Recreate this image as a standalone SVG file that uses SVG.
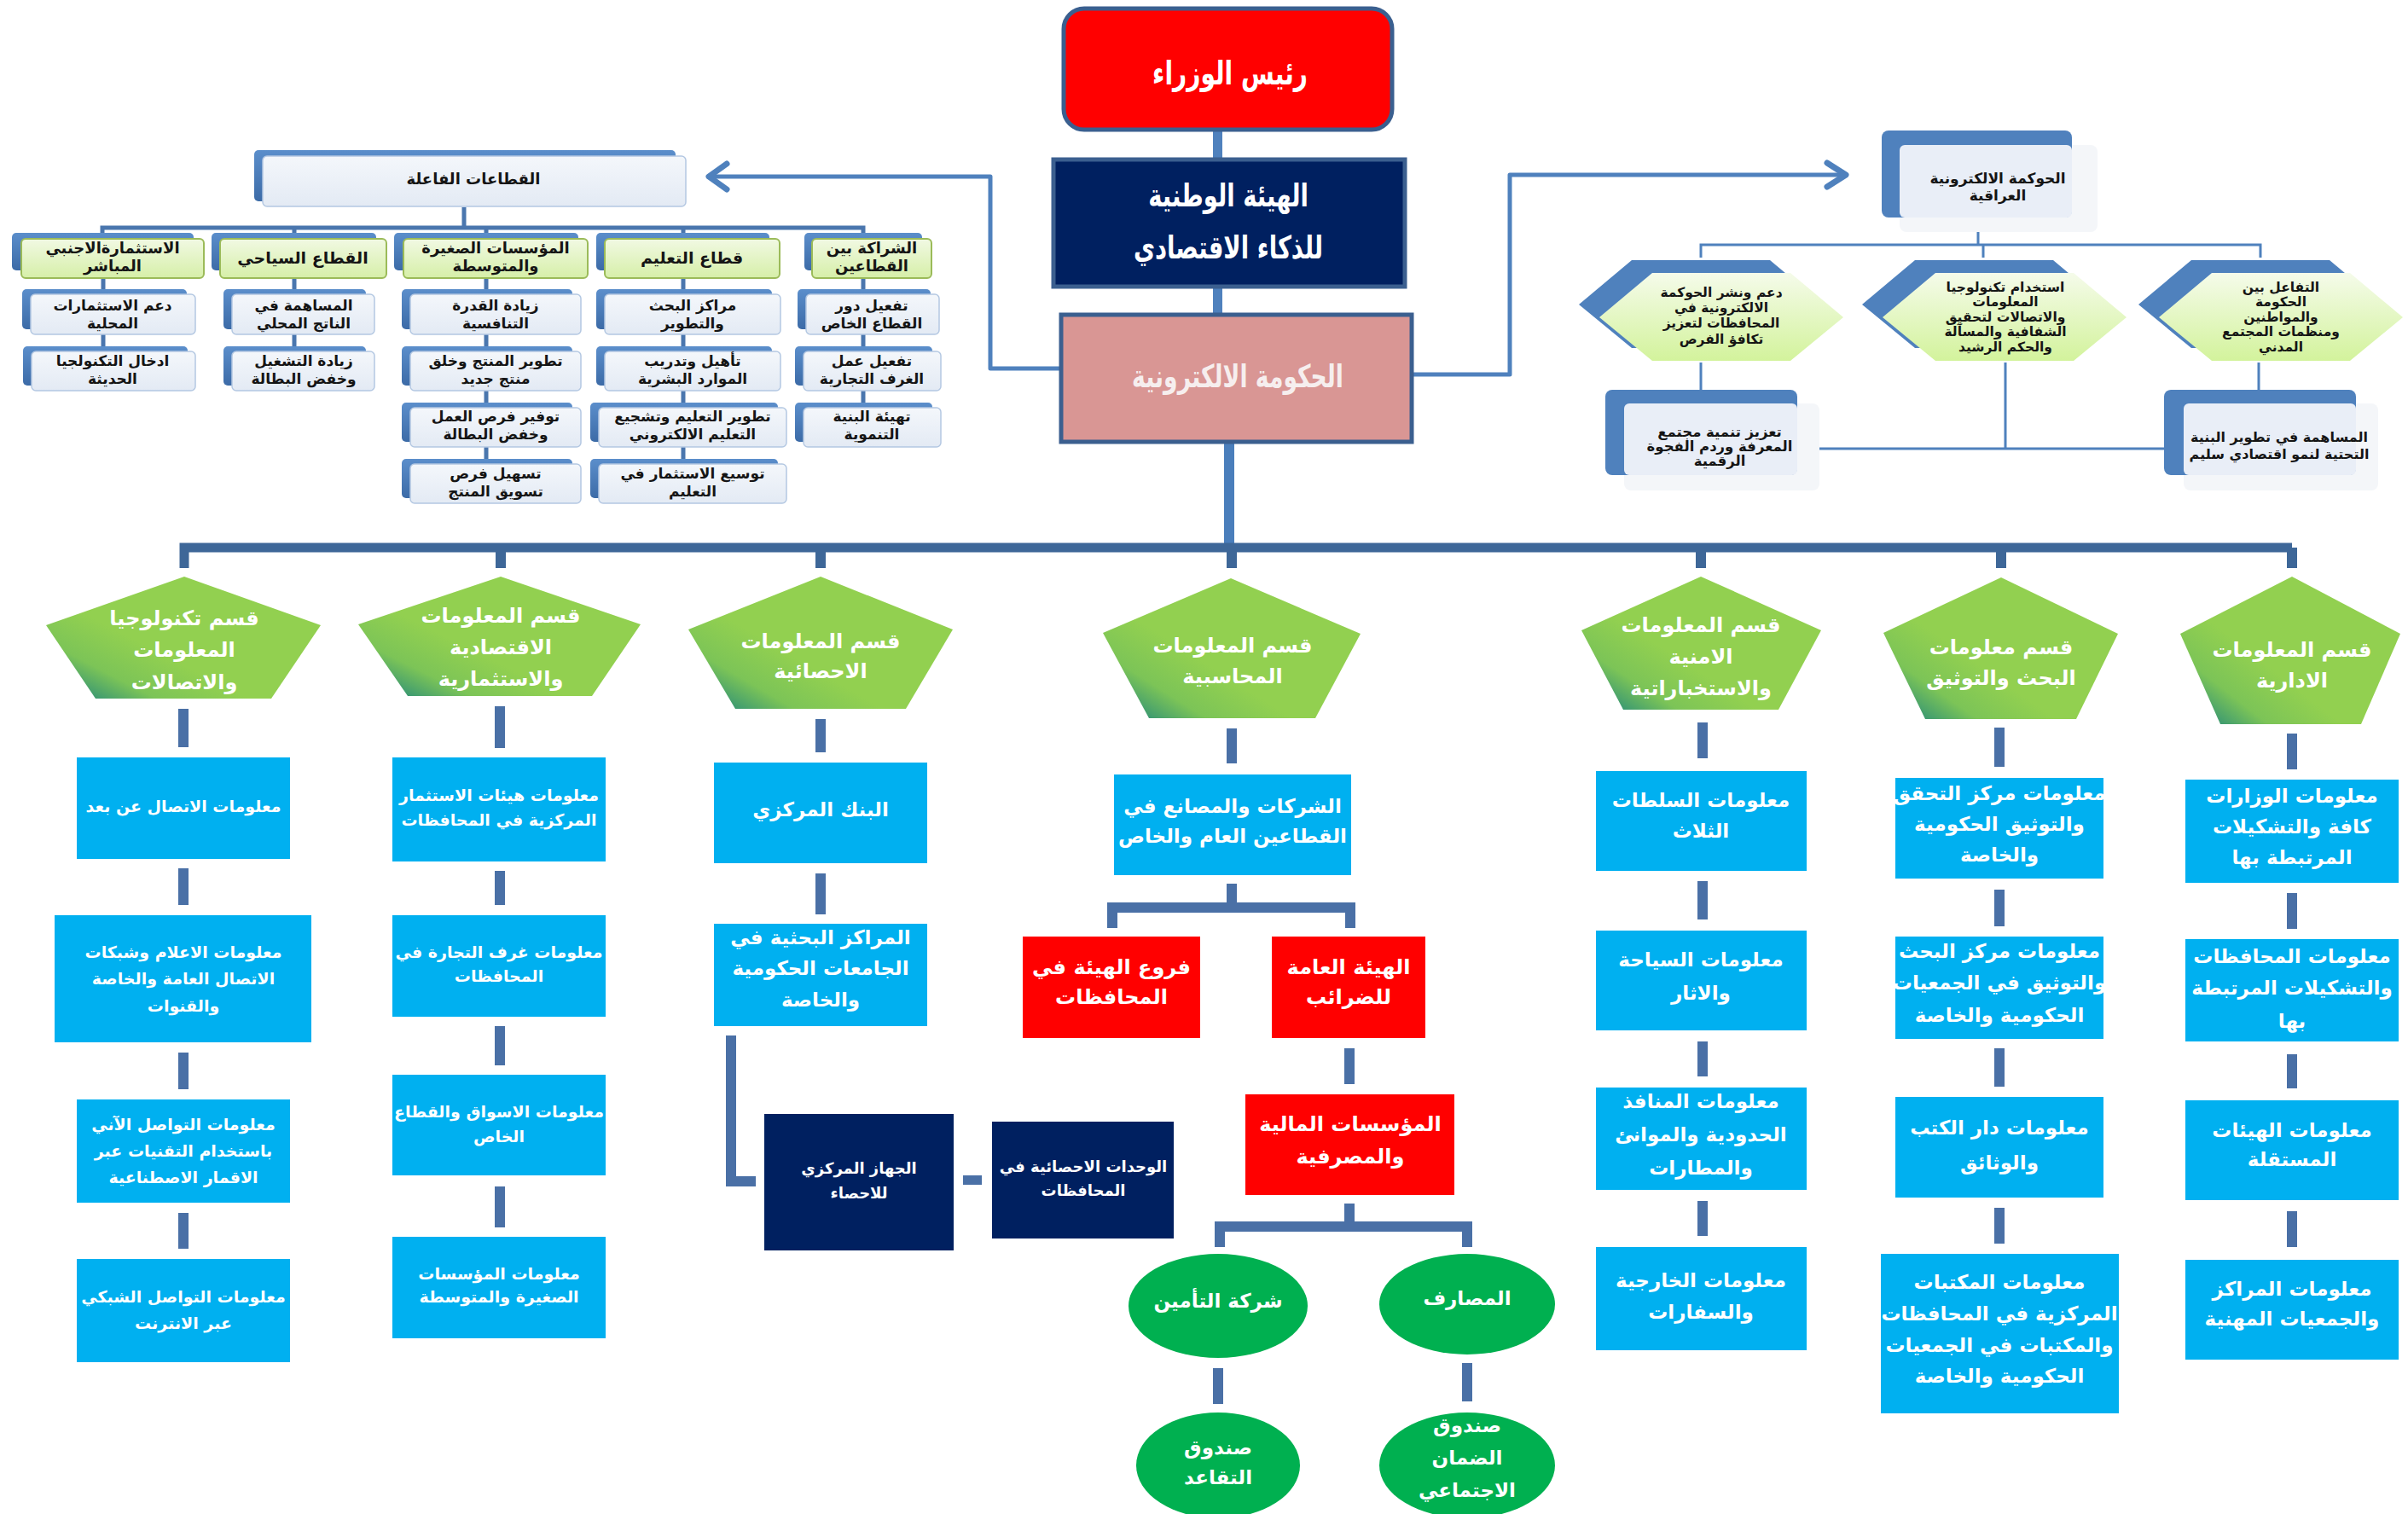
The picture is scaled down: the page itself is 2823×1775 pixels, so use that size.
<svg xmlns="http://www.w3.org/2000/svg" width="2823" height="1775" viewBox="0 0 2823 1775">
<defs>
<linearGradient id="gBack" x1="0" y1="0" x2="0" y2="1"><stop offset="0" stop-color="#5B8ECB"/><stop offset="1" stop-color="#3C6BA7"/></linearGradient>
<linearGradient id="gFront" x1="0" y1="0" x2="0" y2="1"><stop offset="0" stop-color="#F4F7FB"/><stop offset="1" stop-color="#E3EAF4"/></linearGradient>
<linearGradient id="gGreen" x1="0" y1="0" x2="0" y2="1"><stop offset="0" stop-color="#F1F9E3"/><stop offset="1" stop-color="#D6EFA8"/></linearGradient>
<linearGradient id="gHex" x1="0" y1="0" x2="0" y2="1"><stop offset="0" stop-color="#F5FBEA"/><stop offset="1" stop-color="#D3F39C"/></linearGradient>
<linearGradient id="gPent" x1="0" y1="0.85" x2="0.35" y2="0.55"><stop offset="0" stop-color="#2F9176"/><stop offset="0.45" stop-color="#7CC457"/><stop offset="1" stop-color="#92D050"/></linearGradient>
<style>
.t{font-family:"DejaVu Sans",sans-serif;text-anchor:middle}
.w{fill:#FFFFFF}
.b{font-weight:bold}
.k{fill:#151515;font-weight:bold}
.bb{fill:url(#gBack)}
.fb{fill:url(#gFront);stroke:#B4C8E2;stroke-width:1.5}
.gb{fill:url(#gGreen);stroke:#9BBB59;stroke-width:2}
.hx{fill:url(#gHex)}
.hb{fill:#4F81BD}
.pt{fill:url(#gPent)}
.bx{fill:#00B0F0}
.rd{fill:#FF0000}
.nv{fill:#002060}
.el{fill:#00B050}
.sh{fill:#F4F6F9}
.lf{fill:#E9EEF7}
.bar{fill:#4A70A6}
.ln{fill:none;stroke:#4A76AE;stroke-width:5}
.ln3{fill:none;stroke:#4F81BD;stroke-width:3}
.bus{fill:none;stroke:#3E6798;stroke-width:11}
.brk{fill:none;stroke:#4A70A6;stroke-width:12}
.arw{fill:none;stroke:#4F81BD;stroke-width:5;stroke-linecap:round;stroke-linejoin:round}
</style>
</defs>
<rect width="2823" height="1775" fill="#FFFFFF"/>

<g id="connectors">
<rect x="1422" y="152" width="11" height="36" fill="#4F81BD"/>
<rect x="1422" y="336" width="11" height="34" fill="#4F81BD"/>
<polyline class="arw" points="1244,432 1161,432 1161,207 834,207"/>
<polyline class="arw" points="852,192 831,207 852,222" style="stroke-width:7"/>
<polyline class="arw" points="1655,439 1770,439 1770,205 2160,205"/>
<polyline class="arw" points="2142,191 2164,205 2142,219" style="stroke-width:7"/>
<path class="ln" d="M544 243V267M120 278V267H1012V278M345 267V278M570 267V278M801 267V278"/>
<path class="ln" d="M121 317V412M345 317V412M570 317V544M801 317V544M1012 317V478"/>
<path class="ln3" d="M2319 255V287M1994 302V287H2650V302M2325 287V302M1994 425V457M2648 425V457M2351 425V526M2107 526H2537"/>
<line x1="1441" y1="518" x2="1441" y2="642" stroke="#4A7EBB" stroke-width="12"/>
<path class="bus" d="M216 666V642H2687"/>
<path class="bus" d="M2687 642V666M587 642V666M962 642V666M1444 642V666M1994 642V666M2346 642V666" style="stroke-width:12"/>
<rect class="bar" x="209" y="831" width="12" height="45"/>
<rect class="bar" x="209" y="1018" width="12" height="43"/>
<rect class="bar" x="209" y="1234" width="12" height="43"/>
<rect class="bar" x="209" y="1422" width="12" height="42"/>
<rect class="bar" x="580" y="828" width="12" height="49"/>
<rect class="bar" x="580" y="1021" width="12" height="40"/>
<rect class="bar" x="580" y="1203" width="12" height="46"/>
<rect class="bar" x="580" y="1391" width="12" height="48"/>
<rect class="bar" x="956" y="843" width="12" height="39"/>
<rect class="bar" x="956" y="1024" width="12" height="48"/>
<path class="brk" d="M857 1214V1385H886"/>
<rect class="bar" x="1129" y="1378" width="22" height="11"/>
<rect class="bar" x="1438" y="854" width="12" height="41"/>
<path class="brk" d="M1304 1088V1064H1583V1088M1444 1036V1064"/>
<rect class="bar" x="1576" y="1229" width="12" height="42"/>
<path class="brk" d="M1430 1462V1438H1720V1462M1582 1411V1438"/>
<rect class="bar" x="1422" y="1604" width="12" height="42"/>
<rect class="bar" x="1714" y="1598" width="12" height="45"/>
<rect class="bar" x="1990" y="847" width="12" height="42"/>
<rect class="bar" x="1990" y="1033" width="12" height="45"/>
<rect class="bar" x="1990" y="1221" width="12" height="41"/>
<rect class="bar" x="1990" y="1408" width="12" height="41"/>
<rect class="bar" x="2338" y="853" width="12" height="46"/>
<rect class="bar" x="2338" y="1043" width="12" height="43"/>
<rect class="bar" x="2338" y="1229" width="12" height="45"/>
<rect class="bar" x="2338" y="1416" width="12" height="42"/>
<rect class="bar" x="2681" y="860" width="12" height="42"/>
<rect class="bar" x="2681" y="1047" width="12" height="42"/>
<rect class="bar" x="2681" y="1236" width="12" height="40"/>
<rect class="bar" x="2681" y="1420" width="12" height="42"/>
</g>

<g id="n-pm">
<rect x="1247" y="10" width="385" height="142" rx="24" fill="#FF0000" stroke="#3A5F8F" stroke-width="5"/>
<text class="t w b" font-size="38" transform="translate(1442 99) scale(0.74 1)" x="0" y="0">رئيس الوزراء</text>
</g>
<g id="n-authority">
<rect x="1235" y="187" width="412" height="149" fill="#002060" stroke="#3B5F8F" stroke-width="5"/>
<text class="t w b" font-size="37" transform="translate(1440 242) scale(0.74 1)"><tspan x="0" y="0">الهيئة الوطنية</tspan><tspan x="0" y="61">للذكاء الاقتصادي</tspan></text>
</g>
<g id="n-egov">
<rect x="1244" y="369" width="411" height="149" fill="#D99694" stroke="#3B5F8F" stroke-width="5"/>
<text class="t b" font-size="37" fill="#F6EEEE" transform="translate(1451 454) scale(0.72 1)" x="0" y="0">الحكومة الالكترونية</text>
</g>

<g id="n-sectors">
<rect class="bb" x="298" y="176" width="494" height="60" rx="5"/>
<rect class="fb" x="308" y="183" width="496" height="59" rx="5"/>
<text class="t k" x="555" y="216" font-size="18">القطاعات الفاعلة</text>
</g>
<g id="n-s1">
<rect class="bb" x="14" y="273" width="213" height="44" rx="5"/>
<rect class="gb" x="25" y="280" width="214" height="46" rx="5"/>
<text class="t k" font-size="18"><tspan x="132" y="297">الاستثمارةالاجنبي</tspan><tspan x="132" y="318">المباشر</tspan></text>
</g>
<g id="n-s2">
<rect class="bb" x="248" y="273" width="193" height="44" rx="5"/>
<rect class="gb" x="258" y="280" width="195" height="46" rx="5"/>
<text class="t k" x="355" y="309" font-size="19">القطاع السياحي</text>
</g>
<g id="n-s3">
<rect class="bb" x="462" y="273" width="216" height="44" rx="5"/>
<rect class="gb" x="473" y="280" width="216" height="46" rx="5"/>
<text class="t k" font-size="18"><tspan x="581" y="297">المؤسسات الصغيرة</tspan><tspan x="581" y="318">والمتوسطة</tspan></text>
</g>
<g id="n-s4">
<rect class="bb" x="699" y="273" width="203" height="44" rx="5"/>
<rect class="gb" x="709" y="280" width="205" height="46" rx="5"/>
<text class="t k" x="811" y="309" font-size="19">قطاع التعليم</text>
</g>
<g id="n-s5">
<rect class="bb" x="943" y="273" width="138" height="44" rx="5"/>
<rect class="gb" x="952" y="280" width="140" height="46" rx="5"/>
<text class="t k" font-size="18"><tspan x="1022" y="297">الشراكة بين</tspan><tspan x="1022" y="318">القطاعين</tspan></text>
</g>

<g id="n-s1a">
<rect class="bb" x="26" y="339" width="193" height="47" rx="5"/>
<rect class="fb" x="36" y="345" width="193" height="47" rx="5"/>
<text class="t k" font-size="17"><tspan x="132" y="364">دعم الاستثمارات</tspan><tspan x="132" y="385">المحلية</tspan></text>
</g>
<g id="n-s1b">
<rect class="bb" x="27" y="406" width="193" height="46" rx="5"/>
<rect class="fb" x="37" y="412" width="192" height="46" rx="5"/>
<text class="t k" font-size="17"><tspan x="132" y="429">ادخال التكنولجيا</tspan><tspan x="132" y="450">الحديثة</tspan></text>
</g>
<g id="n-s2a">
<rect class="bb" x="262" y="339" width="167" height="47" rx="5"/>
<rect class="fb" x="272" y="345" width="167" height="47" rx="5"/>
<text class="t k" font-size="17"><tspan x="356" y="364">المساهمة في</tspan><tspan x="356" y="385">الناتج المحلي</tspan></text>
</g>
<g id="n-s2b">
<rect class="bb" x="262" y="406" width="167" height="46" rx="5"/>
<rect class="fb" x="272" y="412" width="167" height="46" rx="5"/>
<text class="t k" font-size="17"><tspan x="356" y="429">زيادة التشغيل</tspan><tspan x="356" y="450">وخفض البطالة</tspan></text>
</g>
<g id="n-s3a">
<rect class="bb" x="471" y="339" width="200" height="47" rx="5"/>
<rect class="fb" x="481" y="345" width="200" height="47" rx="5"/>
<text class="t k" font-size="17"><tspan x="581" y="364">زيادة القدرة</tspan><tspan x="581" y="385">التنافسية</tspan></text>
</g>
<g id="n-s3b">
<rect class="bb" x="471" y="406" width="200" height="46" rx="5"/>
<rect class="fb" x="481" y="412" width="200" height="46" rx="5"/>
<text class="t k" font-size="17"><tspan x="581" y="429">تطوير المنتج وخلق</tspan><tspan x="581" y="450">منتج جديد</tspan></text>
</g>
<g id="n-s3c">
<rect class="bb" x="471" y="472" width="200" height="46" rx="5"/>
<rect class="fb" x="481" y="478" width="200" height="46" rx="5"/>
<text class="t k" font-size="17"><tspan x="581" y="494">توفير فرص العمل</tspan><tspan x="581" y="515">وخفض البطالة</tspan></text>
</g>
<g id="n-s3d">
<rect class="bb" x="471" y="538" width="200" height="46" rx="5"/>
<rect class="fb" x="481" y="544" width="200" height="46" rx="5"/>
<text class="t k" font-size="17"><tspan x="581" y="561">تسهيل فرص</tspan><tspan x="581" y="582">تسويق المنتج</tspan></text>
</g>
<g id="n-s4a">
<rect class="bb" x="699" y="339" width="206" height="47" rx="5"/>
<rect class="fb" x="709" y="345" width="206" height="47" rx="5"/>
<text class="t k" font-size="17"><tspan x="812" y="364">مراكز البحث</tspan><tspan x="812" y="385">والتطوير</tspan></text>
</g>
<g id="n-s4b">
<rect class="bb" x="699" y="406" width="206" height="46" rx="5"/>
<rect class="fb" x="709" y="412" width="206" height="46" rx="5"/>
<text class="t k" font-size="17"><tspan x="812" y="429">تأهيل وتدريب</tspan><tspan x="812" y="450">الموارد البشرية</tspan></text>
</g>
<g id="n-s4c">
<rect class="bb" x="692" y="472" width="220" height="46" rx="5"/>
<rect class="fb" x="702" y="478" width="220" height="46" rx="5"/>
<text class="t k" font-size="17"><tspan x="812" y="494">تطوير التعليم وتشجيع</tspan><tspan x="812" y="515">التعليم الالكتروني</tspan></text>
</g>
<g id="n-s4d">
<rect class="bb" x="692" y="538" width="220" height="46" rx="5"/>
<rect class="fb" x="702" y="544" width="220" height="46" rx="5"/>
<text class="t k" font-size="17"><tspan x="812" y="561">توسيع الاستثمار في</tspan><tspan x="812" y="582">التعليم</tspan></text>
</g>
<g id="n-s5a">
<rect class="bb" x="935" y="339" width="156" height="47" rx="5"/>
<rect class="fb" x="945" y="345" width="156" height="47" rx="5"/>
<text class="t k" font-size="17"><tspan x="1022" y="364">تفعيل دور</tspan><tspan x="1022" y="385">القطاع الخاص</tspan></text>
</g>
<g id="n-s5b">
<rect class="bb" x="932" y="406" width="161" height="46" rx="5"/>
<rect class="fb" x="942" y="412" width="161" height="46" rx="5"/>
<text class="t k" font-size="17"><tspan x="1022" y="429">تفعيل عمل</tspan><tspan x="1022" y="450">الغرف التجارية</tspan></text>
</g>
<g id="n-s5c">
<rect class="bb" x="932" y="472" width="161" height="46" rx="5"/>
<rect class="fb" x="942" y="478" width="161" height="46" rx="5"/>
<text class="t k" font-size="17"><tspan x="1022" y="494">تهيئة البنية</tspan><tspan x="1022" y="515">التنموية</tspan></text>
</g>

<g id="n-iqgov">
<rect class="sh" x="2227" y="170" width="232" height="102" rx="8"/>
<rect class="hb" x="2206" y="153" width="223" height="102" rx="8"/>
<rect class="lf" x="2227" y="170" width="202" height="85" rx="6"/>
<text class="t k" font-size="17"><tspan x="2342" y="215">الحوكمة الالكترونية</tspan><tspan x="2342" y="235">العراقية</tspan></text>
</g>
<g id="n-h1">
<polygon class="hb" points="1913,305 2075,305 2137,357 2075,408 1913,408 1851,357"/>
<polygon class="hx" points="1937,320 2099,320 2161,372 2099,423 1937,423 1875,372"/>
<text class="t k" font-size="15.5"><tspan x="2018" y="348">دعم ونشر الحوكمة</tspan><tspan x="2018" y="366">الالكترونية في</tspan><tspan x="2018" y="384">المحافظات لتعزيز</tspan><tspan x="2018" y="403">تكافؤ الفرص</tspan></text>
</g>
<g id="n-h2">
<polygon class="hb" points="2245,305 2407,305 2469,357 2407,408 2245,408 2183,357"/>
<polygon class="hx" points="2269,320 2431,320 2493,372 2431,423 2269,423 2207,372"/>
<text class="t k" font-size="15.5"><tspan x="2351" y="342">استخدام تكنولوجيا</tspan><tspan x="2351" y="359">المعلومات</tspan><tspan x="2351" y="377">والاتصالات لتحقيق</tspan><tspan x="2351" y="394">الشفافية والمسآلة</tspan><tspan x="2351" y="412">والحكم الرشيد</tspan></text>
</g>
<g id="n-h3">
<polygon class="hb" points="2569,305 2731,305 2793,357 2731,408 2569,408 2507,357"/>
<polygon class="hx" points="2593,320 2755,320 2817,372 2755,423 2593,423 2531,372"/>
<text class="t k" font-size="15.5"><tspan x="2674" y="342">التفاعل بين</tspan><tspan x="2674" y="359">الحكومة</tspan><tspan x="2674" y="377">والمواطنين</tspan><tspan x="2674" y="394">ومنظمات المجتمع</tspan><tspan x="2674" y="412">المدني</tspan></text>
</g>
<g id="n-r1">
<rect class="sh" x="1904" y="473" width="229" height="102" rx="8"/>
<rect class="hb" x="1882" y="457" width="225" height="100" rx="8"/>
<rect class="lf" x="1904" y="473" width="203" height="84" rx="6"/>
<text class="t k" font-size="16.5"><tspan x="2016" y="512">تعزيز تنمية مجتمع</tspan><tspan x="2016" y="529">المعرفة وردم الفجوة</tspan><tspan x="2016" y="546">الرقمية</tspan></text>
</g>
<g id="n-r2">
<rect class="sh" x="2560" y="473" width="228" height="102" rx="8"/>
<rect class="hb" x="2537" y="457" width="225" height="100" rx="8"/>
<rect class="lf" x="2560" y="473" width="202" height="84" rx="6"/>
<text class="t k" font-size="16"><tspan x="2672" y="518">المساهمة في تطوير البنية</tspan><tspan x="2672" y="538">التحتية لنمو اقتصادي سليم</tspan></text>
</g>

<g id="n-pA">
<polygon class="pt" points="216,676 376,733 318,819 112,819 54,733"/>
<text class="t w b" font-size="24"><tspan x="216" y="733">قسم تكنولوجيا</tspan><tspan x="216" y="770">المعلومات</tspan><tspan x="216" y="808">والاتصالات</tspan></text>
</g>
<g id="n-pB">
<polygon class="pt" points="587,676 751,732 694,816 478,816 420,732"/>
<text class="t w b" font-size="24"><tspan x="587" y="730">قسم المعلومات</tspan><tspan x="587" y="767">الاقتصادية</tspan><tspan x="587" y="804">والاستثمارية</tspan></text>
</g>
<g id="n-pC">
<polygon class="pt" points="962,676 1117,738 1062,831 862,831 807,738"/>
<text class="t w b" font-size="24"><tspan x="962" y="760">قسم المعلومات</tspan><tspan x="962" y="795">الاحصائية</tspan></text>
</g>
<g id="n-pD">
<polygon class="pt" points="1443,678 1595,743 1542,842 1347,842 1293,742"/>
<text class="t w b" font-size="24"><tspan x="1445" y="765">قسم المعلومات</tspan><tspan x="1445" y="801">المحاسبية</tspan></text>
</g>
<g id="n-pE">
<polygon class="pt" points="1994,676 2135,739 2085,832 1903,832 1854,739"/>
<text class="t w b" font-size="24"><tspan x="1994" y="741">قسم المعلومات</tspan><tspan x="1994" y="778">الامنية</tspan><tspan x="1994" y="815">والاستخباراتية</tspan></text>
</g>
<g id="n-pF">
<polygon class="pt" points="2346,677 2483,743 2434,843 2257,843 2208,742"/>
<text class="t w b" font-size="24"><tspan x="2346" y="767">قسم معلومات</tspan><tspan x="2346" y="803">البحث والتوثيق</tspan></text>
</g>
<g id="n-pG">
<polygon class="pt" points="2687,676 2814,743 2768,849 2603,849 2556,743"/>
<text class="t w b" font-size="24"><tspan x="2687" y="770">قسم المعلومات</tspan><tspan x="2687" y="806">الادارية</tspan></text>
</g>

<g id="n-a1"><rect class="bx" x="90" y="888" width="250" height="119"/>
<text class="t w b" x="215" y="952" font-size="19">معلومات الاتصال عن بعد</text></g>
<g id="n-a2"><rect class="bx" x="64" y="1073" width="301" height="149"/>
<text class="t w b" font-size="19"><tspan x="215" y="1123">معلومات الاعلام وشبكات</tspan><tspan x="215" y="1154">الاتصال العامة والخاصة</tspan><tspan x="215" y="1186">والقنوات</tspan></text></g>
<g id="n-a3"><rect class="bx" x="90" y="1289" width="250" height="121"/>
<text class="t w b" font-size="19"><tspan x="215" y="1325">معلومات التواصل الآني</tspan><tspan x="215" y="1356">باستخدام التقنيات عبر</tspan><tspan x="215" y="1387">الاقمار الاصطناعية</tspan></text></g>
<g id="n-a4"><rect class="bx" x="90" y="1476" width="250" height="121"/>
<text class="t w b" font-size="19"><tspan x="215" y="1527">معلومات التواصل الشبكي</tspan><tspan x="215" y="1558">عبر الانترنت</tspan></text></g>

<g id="n-b1"><rect class="bx" x="460" y="888" width="250" height="122"/>
<text class="t w b" font-size="19"><tspan x="585" y="939">معلومات هيئات الاستثمار</tspan><tspan x="585" y="968">المركزية في المحافظات</tspan></text></g>
<g id="n-b2"><rect class="bx" x="460" y="1073" width="250" height="119"/>
<text class="t w b" font-size="19"><tspan x="585" y="1123">معلومات غرف التجارة في</tspan><tspan x="585" y="1151">المحافظات</tspan></text></g>
<g id="n-b3"><rect class="bx" x="460" y="1260" width="250" height="118"/>
<text class="t w b" font-size="19"><tspan x="585" y="1310">معلومات الاسواق والقطاع</tspan><tspan x="585" y="1339">الخاص</tspan></text></g>
<g id="n-b4"><rect class="bx" x="460" y="1450" width="250" height="119"/>
<text class="t w b" font-size="19"><tspan x="585" y="1500">معلومات المؤسسات</tspan><tspan x="585" y="1527">الصغيرة والمتوسطة</tspan></text></g>

<g id="n-c1"><rect class="bx" x="837" y="894" width="250" height="118"/>
<text class="t w b" x="962" y="957" font-size="23">البنك المركزي</text></g>
<g id="n-c2"><rect class="bx" x="837" y="1083" width="250" height="120"/>
<text class="t w b" font-size="23"><tspan x="962" y="1107">المراكز البحثية في</tspan><tspan x="962" y="1143">الجامعات الحكومية</tspan><tspan x="962" y="1180">والخاصة</tspan></text></g>
<g id="n-c3"><rect class="nv" x="896" y="1306" width="222" height="160"/>
<text class="t w b" font-size="18"><tspan x="1007" y="1376">الجهاز المركزي</tspan><tspan x="1007" y="1405">للاحصاء</tspan></text></g>
<g id="n-c4"><rect class="nv" x="1163" y="1315" width="213" height="137"/>
<text class="t w b" font-size="18"><tspan x="1270" y="1374">الوحدات الاحصائية في</tspan><tspan x="1270" y="1402">المحافظات</tspan></text></g>

<g id="n-d1"><rect class="bx" x="1306" y="908" width="278" height="118"/>
<text class="t w b" font-size="23"><tspan x="1445" y="953">الشركات والمصانع في</tspan><tspan x="1445" y="988">القطاعين العام والخاص</tspan></text></g>
<g id="n-d2"><rect class="rd" x="1199" y="1098" width="208" height="119"/>
<text class="t w b" font-size="24"><tspan x="1303" y="1142">فروع الهيئة في</tspan><tspan x="1303" y="1177">المحافظات</tspan></text></g>
<g id="n-d3"><rect class="rd" x="1491" y="1098" width="180" height="119"/>
<text class="t w b" font-size="24"><tspan x="1581" y="1142">الهيئة العامة</tspan><tspan x="1581" y="1177">للضرائب</tspan></text></g>
<g id="n-d4"><rect class="rd" x="1460" y="1283" width="245" height="118"/>
<text class="t w b" font-size="24"><tspan x="1583" y="1326">المؤسسات المالية</tspan><tspan x="1583" y="1364">والمصرفية</tspan></text></g>
<g id="n-e1"><ellipse class="el" cx="1428" cy="1531" rx="105" ry="61"/>
<text class="t w b" x="1428" y="1533" font-size="23">شركة التأمين</text></g>
<g id="n-e2"><ellipse class="el" cx="1720" cy="1529" rx="103" ry="59"/>
<text class="t w b" x="1720" y="1530" font-size="23">المصارف</text></g>
<g id="n-e3"><ellipse class="el" cx="1428" cy="1718" rx="96" ry="62"/>
<text class="t w b" font-size="23"><tspan x="1428" y="1705">صندوق</tspan><tspan x="1428" y="1740">التقاعد</tspan></text></g>
<g id="n-e4"><ellipse class="el" cx="1720" cy="1718" rx="103" ry="62"/>
<text class="t w b" font-size="23"><tspan x="1720" y="1679">صندوق</tspan><tspan x="1720" y="1717">الضمان</tspan><tspan x="1720" y="1755">الاجتماعي</tspan></text></g>

<g id="n-e5"><rect class="bx" x="1871" y="904" width="247" height="117"/>
<text class="t w b" font-size="23"><tspan x="1994" y="946">معلومات السلطات</tspan><tspan x="1994" y="982">الثلاث</tspan></text></g>
<g id="n-e6"><rect class="bx" x="1871" y="1091" width="247" height="117"/>
<text class="t w b" font-size="23"><tspan x="1994" y="1133">معلومات السياحة</tspan><tspan x="1994" y="1172">والاثار</tspan></text></g>
<g id="n-e7"><rect class="bx" x="1871" y="1275" width="247" height="120"/>
<text class="t w b" font-size="23"><tspan x="1994" y="1299">معلومات المنافذ</tspan><tspan x="1994" y="1338">الحدودية والموانئ</tspan><tspan x="1994" y="1377">والمطارات</tspan></text></g>
<g id="n-e8"><rect class="bx" x="1871" y="1462" width="247" height="121"/>
<text class="t w b" font-size="23"><tspan x="1994" y="1509">معلومات الخارجية</tspan><tspan x="1994" y="1546">والسفارات</tspan></text></g>

<g id="n-f1"><rect class="bx" x="2222" y="912" width="244" height="118"/>
<text class="t w b" font-size="23"><tspan x="2344" y="938">معلومات مركز التحقق</tspan><tspan x="2344" y="974">والتوثيق الحكومية</tspan><tspan x="2344" y="1010">والخاصة</tspan></text></g>
<g id="n-f2"><rect class="bx" x="2222" y="1098" width="244" height="120"/>
<text class="t w b" font-size="23"><tspan x="2344" y="1123">معلومات مركز البحث</tspan><tspan x="2344" y="1160">والتوثيق في الجمعيات</tspan><tspan x="2344" y="1198">الحكومية والخاصة</tspan></text></g>
<g id="n-f3"><rect class="bx" x="2222" y="1286" width="244" height="118"/>
<text class="t w b" font-size="23"><tspan x="2344" y="1330">معلومات دار الكتب</tspan><tspan x="2344" y="1371">والوثائق</tspan></text></g>
<g id="n-f4"><rect class="bx" x="2205" y="1470" width="279" height="187"/>
<text class="t w b" font-size="23"><tspan x="2344" y="1511">معلومات المكتبات</tspan><tspan x="2344" y="1548">المركزية في المحافظات</tspan><tspan x="2344" y="1585">والمكتبات في الجمعيات</tspan><tspan x="2344" y="1621">الحكومية والخاصة</tspan></text></g>

<g id="n-g1"><rect class="bx" x="2562" y="914" width="250" height="121"/>
<text class="t w b" font-size="23"><tspan x="2687" y="941">معلومات الوزارات</tspan><tspan x="2687" y="977">كافة والتشكيلات</tspan><tspan x="2687" y="1013">المرتبطة بها</tspan></text></g>
<g id="n-g2"><rect class="bx" x="2562" y="1101" width="250" height="120"/>
<text class="t w b" font-size="23"><tspan x="2687" y="1129">معلومات المحافظات</tspan><tspan x="2687" y="1166">والتشكيلات المرتبطة</tspan><tspan x="2687" y="1205">بها</tspan></text></g>
<g id="n-g3"><rect class="bx" x="2562" y="1290" width="250" height="117"/>
<text class="t w b" font-size="23"><tspan x="2687" y="1333">معلومات الهيئات</tspan><tspan x="2687" y="1367">المستقلة</tspan></text></g>
<g id="n-g4"><rect class="bx" x="2562" y="1477" width="250" height="117"/>
<text class="t w b" font-size="23"><tspan x="2687" y="1519">معلومات المراكز</tspan><tspan x="2687" y="1554">والجمعيات المهنية</tspan></text></g>
</svg>
